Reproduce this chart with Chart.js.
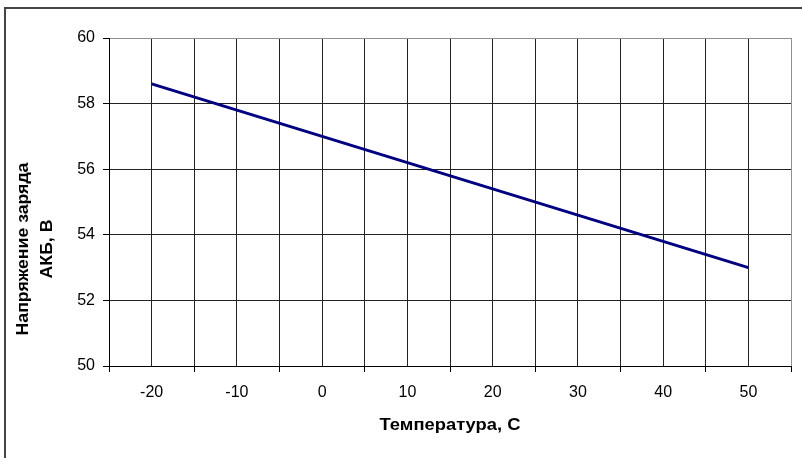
<!DOCTYPE html>
<html>
<head>
<meta charset="utf-8">
<script src="https://cdn.jsdelivr.net/npm/chart.js@4"></script>
<style>
html,body{margin:0;padding:0;background:#fff;}
#wrap{width:802px;height:458px;position:relative;}
</style>
</head>
<body>
<div id="wrap"><canvas id="c" width="802" height="458"></canvas></div>
<script>
// Data
const temperatures = [-20, -10, 0, 10, 20, 30, 40, 50];
const voltages = [58.6, 57.8, 57.0, 56.2, 55.4, 54.6, 53.8, 53.0];
const xTitle = 'Температура, С';
const yTitleLines = ['Напряжение заряда', 'АКБ, В'];

const FONT = 'Arial, "Liberation Sans", sans-serif';

const decor = {
  id: 'decor',
  beforeDraw(chart) {
    const ctx = chart.ctx;
    ctx.save();
    ctx.fillStyle = '#ffffff';
    ctx.fillRect(0, 0, chart.width, chart.height);
    ctx.strokeStyle = '#444444';
    ctx.lineWidth = 2;
    ctx.beginPath();
    ctx.moveTo(5, 460);
    ctx.lineTo(5, 8);
    ctx.lineTo(804, 8);
    ctx.stroke();
    ctx.restore();
  },
  afterDraw(chart) {
    const ctx = chart.ctx;
    const a = chart.chartArea;
    ctx.save();
    ctx.fillStyle = '#000000';
    ctx.font = 'bold 17px ' + FONT;
    ctx.textAlign = 'center';
    ctx.textBaseline = 'middle';
    ctx.save();
    ctx.translate((a.left + a.right) / 2, 425);
    ctx.scale(1.08, 1);
    ctx.fillText(xTitle, 0, 0);
    ctx.restore();
    ctx.translate(0, 249);
    ctx.rotate(-Math.PI / 2);
    ctx.scale(1.04, 1);
    ctx.fillText(yTitleLines[0], 0, 23);
    ctx.fillText(yTitleLines[1], 0, 47);
    ctx.restore();
  }
};

new Chart(document.getElementById('c'), {
  type: 'scatter',
  data: {
    datasets: [{
      data: temperatures.map((t, i) => ({x: t, y: voltages[i]})),
      showLine: true,
      borderColor: '#000080',
      borderWidth: 3,
      pointRadius: 0,
      fill: false,
      tension: 0
    }]
  },
  options: {
    responsive: false,
    animation: false,
    devicePixelRatio: 1,
    layout: {padding: {top: 38, right: 7, left: 0, bottom: 0}},
    plugins: {legend: {display: false}, tooltip: {enabled: false}},
    scales: {
      x: {
        type: 'linear',
        min: -25, max: 55,
        afterFit(s) { s.height = 92; },
        border: {color: '#000000', width: 1},
        grid: {
          color: c => (c.tick && c.tick.value === 55) ? '#909090' : '#222222',
          tickColor: c => (c.tick && ((c.tick.value + 25) % 10 === 0)) ? '#000000' : 'rgba(0,0,0,0)',
          tickLength: 6,
          lineWidth: 1
        },
        ticks: {
          stepSize: 5,
          autoSkip: false,
          maxRotation: 0,
          padding: 11,
          color: '#000000',
          font: {family: FONT, size: 16},
          callback: v => (v % 10 === 0 && v > -25 && v < 55) ? String(v) : ''
        }
      },
      y: {
        min: 50, max: 60,
        afterFit(s) { s.width = 109; },
        border: {color: '#000000', width: 1},
        grid: {
          color: c => (c.tick && c.tick.value === 60) ? '#909090' : '#222222',
          tickColor: '#000000',
          tickLength: 6,
          lineWidth: 1
        },
        ticks: {
          stepSize: 2,
          padding: 8,
          color: '#000000',
          font: {family: FONT, size: 16}
        }
      }
    }
  },
  plugins: [decor]
});
</script>
</body>
</html>
